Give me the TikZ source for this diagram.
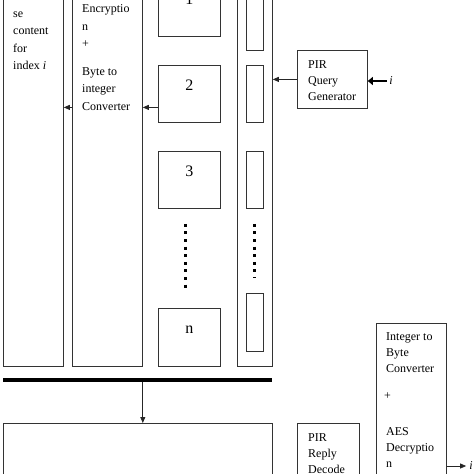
\documentclass[tikz,border=0pt]{standalone}
\usepackage{fontspec}
\setmainfont{Liberation Serif}
\usetikzlibrary{arrows.meta}
\begin{document}
\begin{tikzpicture}[x=1pt,y=-1pt,
  box/.style={draw=black!80, line width=0.8pt, rectangle, inner sep=0pt, anchor=north west},
  txt/.style={anchor=north west, inner sep=0pt, align=left, font=\fontsize{12}{17.5}\selectfont},
  txts/.style={anchor=north west, inner sep=0pt, align=left, font=\fontsize{12}{16.3}\selectfont},
  numlbl/.style={inner sep=0pt, font=\fontsize{16}{16}\selectfont},
  conn/.style={draw=black!85, line width=0.8pt, -{Triangle[length=6pt,width=5pt]}},
  thickconn/.style={draw=black, line width=2.6pt, -{Triangle[length=5pt,width=8pt]}},
  dotline/.style={draw=black, line width=3pt, dash pattern=on 3pt off 4.6pt}
]
\clip (0,0) rectangle (474,474);
% left columns
\node[box, minimum width=60pt, minimum height=416pt] (left) at (3,-50) {};
\node[box, minimum width=70pt, minimum height=416pt] (enc) at (72,-50) {};
% database blocks
\node[box, minimum width=62pt, minimum height=57pt] (b1) at (158,-21) {};
\node[box, minimum width=62pt, minimum height=57pt] (b2) at (158,65) {};
\node[box, minimum width=62pt, minimum height=57pt] (b3) at (158,151) {};
\node[box, minimum width=62pt, minimum height=58pt] (bn) at (158,308) {};
\node[numlbl] (l1) at ([yshift=-20pt]b1.north) {1};
\node[numlbl] (l2) at ([yshift=-20pt]b2.north) {2};
\node[numlbl] (l3) at ([yshift=-20pt]b3.north) {3};
\node[numlbl] (ln) at ([yshift=-22pt]bn.north) {n};
% query column
\node[box, minimum width=35pt, minimum height=416pt] (cont) at (237,-50) {};
\node[box, minimum width=17pt, minimum height=57pt] (r1) at (246,-7) {};
\node[box, minimum width=17pt, minimum height=57pt] (r2) at (246,65) {};
\node[box, minimum width=17pt, minimum height=57pt] (r3) at (246,151) {};
\node[box, minimum width=17pt, minimum height=58pt] (rn) at (246,293) {};
% dots
\draw[dotline, shorten <=15pt, shorten >=16pt] ([xshift=-4pt]b3.south) -- ([xshift=-4pt]bn.north);
\draw[dotline, line width=2.5pt, shorten <=15pt, shorten >=15pt] ([xshift=-0.5pt]r3.south) -- ([xshift=-0.5pt]rn.north);
% query generator
\node[box, minimum width=70pt, minimum height=58pt] (pqg) at (297,50) {};
\node[txts] (pqgt) at (308,60) {PIR\\Query\\Generator};
\node[inner sep=0pt, font=\fontsize{12}{12}\selectfont\itshape] (iin) at (391,81) {i};
% texts in columns
\node[txt] (leftt) at (13,11.6) {se\\content\\for\\index \textit{i}};
\node[txt] (enct1) at (82,4.6) {Encryptio\\n\\+};
\node[txt] (enct2) at (82,67) {Byte to\\integer\\Converter};
% bar and lower part
\node[rectangle, fill=black, inner sep=0pt, anchor=north west, minimum width=269pt, minimum height=4pt] (bar) at (3,378) {};
\node[box, minimum width=269pt, minimum height=100pt] (bottom) at (3,423) {};
\node[box, minimum width=62pt, minimum height=100pt] (prd) at (297,423) {};
\node[txts] (prdt) at (308,433) {PIR\\Reply\\Decode};
\node[box, minimum width=70pt, minimum height=200pt] (ibc) at (376,323) {};
\node[txts] (ibct1) at (386,332) {Integer to\\Byte\\Converter};
\node[txts] (ibct2) at (384,393) {+};
\node[txts] (ibct3) at (386,427) {AES\\Decryptio\\n};
\node[inner sep=0pt, font=\fontsize{12}{12}\selectfont\itshape] (iout) at (471,466) {i};
% connectors
\draw[conn] ([yshift=-13.5pt]b2.west) -- ([yshift=-13.5pt]b2.west -| enc.east);
\draw[conn] ([yshift=-13.5pt]b2.west -| enc.west) -- ([yshift=-13.5pt]b2.west -| left.east);
\draw[conn] (pqg.west) -- (pqg.west -| cont.east);
\draw[thickconn] ([xshift=-2pt]iin.west) -- (iin.west -| pqg.east);
\draw[conn] (bar.south -| enc.east) -- (bottom.north -| enc.east);
\draw[conn] (ibc.east |- iout) -- ([xshift=-3pt]iout.west);
\end{tikzpicture}
\end{document}
